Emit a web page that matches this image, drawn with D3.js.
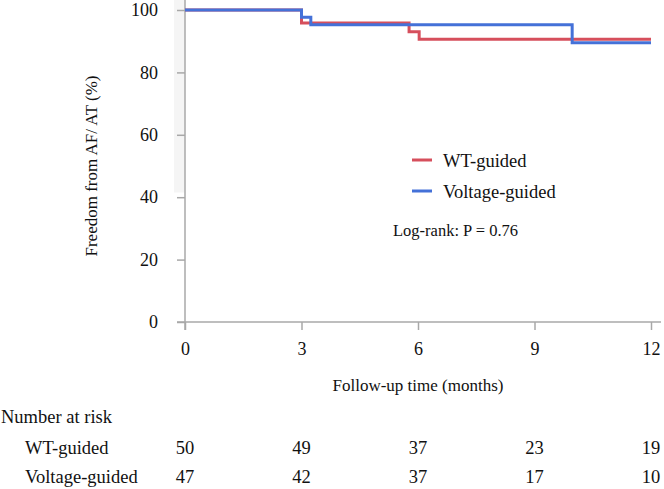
<!DOCTYPE html>
<html>
<head>
<meta charset="utf-8">
<script src="https://cdn.jsdelivr.net/npm/d3@7"></script>
<style>
  body { margin: 0; background: #fff; }
  svg { font-family: "Liberation Serif", "Times New Roman", serif; fill: #111; }
</style>
</head>
<body>
<div id="chart"></div>
<script>
// Kaplan-Meier step data
const wtTimes = [0, 3, 5.77, 6.03, 12];
const wtSurv = [100, 95.8, 93.0, 90.6, 90.6];
const voltTimes = [0, 3, 3.24, 9.97, 12];
const voltSurv = [100, 97.7, 95.3, 89.5, 89.5];

// number at risk table
const riskMonths = [0, 3, 6, 9, 12];
const wtAtRisk = [50, 49, 37, 23, 19];
const voltAtRisk = [47, 42, 37, 17, 10];

const xTicks = [0, 3, 6, 9, 12];
const yTicks = [0, 20, 40, 60, 80, 100];

const groups = ['WT-guided', 'Voltage-guided'];
const colors = ['#d64f5c', '#4471d8'];

const width = 664, height = 489;
const margin = { top: 10, right: 13, bottom: 167, left: 185 };

const svg = d3.select('#chart').append('svg')
    .attr('width', width)
    .attr('height', height);

const xScale = d3.scaleLinear().domain([0, 12]).range([margin.left, width - margin.right]);
const yScale = d3.scaleLinear().domain([0, 100]).range([height - margin.bottom, margin.top]);

// faint band left of the y axis
svg.append('rect')
    .attr('x', xScale(0) - 11)
    .attr('y', 0)
    .attr('width', 11)
    .attr('height', yScale(41.5))
    .attr('fill', '#f5f5f5');

const axisColor = '#a8a8a8';

// x axis
const xAxisG = svg.append('g')
    .attr('transform', `translate(0,${yScale(0)})`)
    .call(d3.axisBottom(xScale).tickValues(xTicks).tickSize(8).tickPadding(12).tickSizeOuter(0));
xAxisG.select('.domain')
    .attr('d', `M${xScale(0) - 8},0H${xScale(12) + 10}`);

// y axis
const yAxisG = svg.append('g')
    .attr('transform', `translate(${xScale(0)},0)`)
    .call(d3.axisLeft(yScale).tickValues(yTicks).tickSize(8).tickPadding(19).tickSizeOuter(0));
yAxisG.select('.domain')
    .attr('d', `M0,${yScale(100) - 10}V${yScale(0) + 8}`);

svg.selectAll('.domain, .tick line')
    .attr('stroke', axisColor)
    .attr('stroke-width', 1.5);
svg.selectAll('.tick text')
    .attr('font-family', '"Liberation Serif", serif')
    .attr('font-size', 18)
    .attr('fill', '#111');

// axis titles
svg.append('text')
    .attr('x', (xScale(0) + xScale(12)) / 2)
    .attr('y', 391)
    .attr('text-anchor', 'middle')
    .attr('font-size', 17)
    .text('Follow-up time (months)');

svg.append('text')
    .attr('transform', `translate(97,${(yScale(0) + yScale(100)) / 2}) rotate(-90)`)
    .attr('text-anchor', 'middle')
    .attr('font-size', 17)
    .text('Freedom from AF/ AT (%)');

// survival curves
const line = d3.line()
    .x(d => xScale(d[0]))
    .y(d => yScale(d[1]))
    .curve(d3.curveStepAfter);

const series = [
    d3.zip(wtTimes, wtSurv),
    d3.zip(voltTimes, voltSurv)
];

svg.append('g').selectAll('path')
    .data(series)
    .join('path')
    .attr('d', line)
    .attr('fill', 'none')
    .attr('stroke', (d, i) => colors[i])
    .attr('stroke-width', 3);

// legend
const legend = svg.append('g');
groups.forEach((g, i) => {
    const y = 160 + i * 31;
    legend.append('line')
        .attr('x1', 412).attr('x2', 432)
        .attr('y1', y).attr('y2', y)
        .attr('stroke', colors[i])
        .attr('stroke-width', 3);
    legend.append('text')
        .attr('x', 443)
        .attr('y', y + 6.5)
        .attr('font-size', 18.5)
        .text(g);
});

svg.append('text')
    .attr('x', 393)
    .attr('y', 236)
    .attr('font-size', 16.5)
    .text('Log-rank: P = 0.76');

// number at risk
svg.append('text')
    .attr('x', 1)
    .attr('y', 423)
    .attr('font-size', 18.5)
    .text('Number at risk');

const riskRows = [wtAtRisk, voltAtRisk];
riskRows.forEach((row, i) => {
    const y = 454 + i * 29;
    svg.append('text')
        .attr('x', 25)
        .attr('y', y)
        .attr('font-size', 18.5)
        .text(groups[i]);
    svg.append('g').selectAll('text')
        .data(row)
        .join('text')
        .attr('x', (d, j) => xScale(riskMonths[j]))
        .attr('y', y)
        .attr('text-anchor', 'middle')
        .attr('font-size', 18.5)
        .text(d => d);
});
</script>
</body>
</html>
